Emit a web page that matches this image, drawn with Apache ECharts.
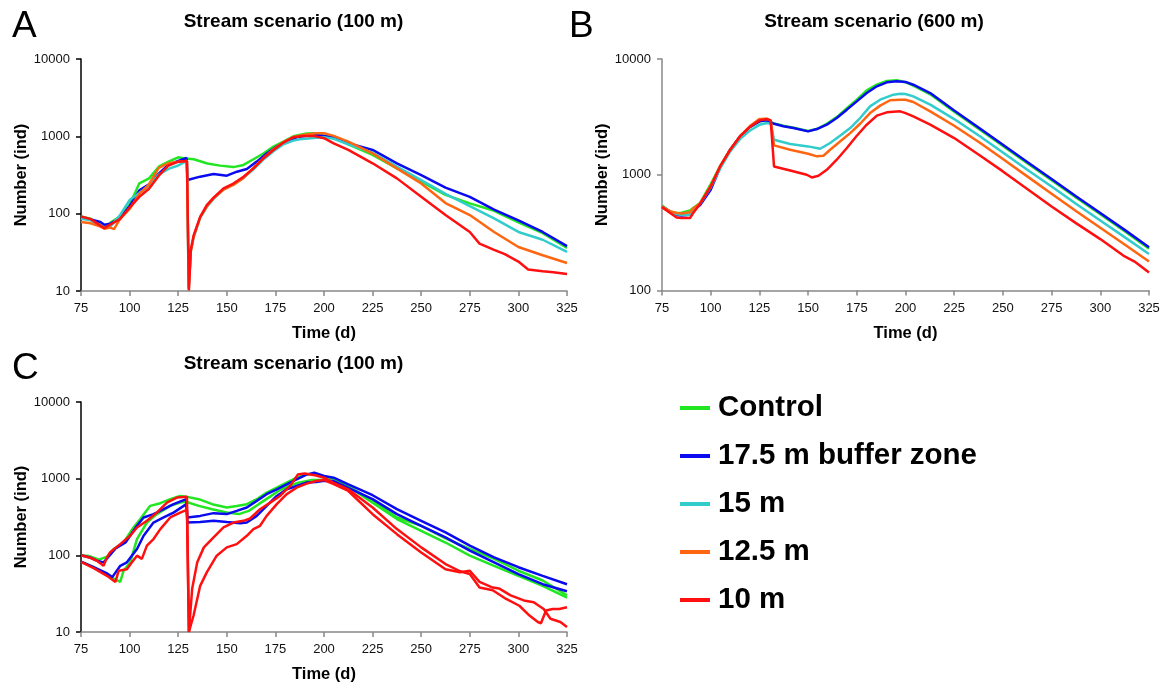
<!DOCTYPE html>
<html><head><meta charset="utf-8">
<script src="https://cdn.jsdelivr.net/npm/echarts@6/dist/echarts.min.js"></script>
<style>html,body{margin:0;padding:0;background:#fff}#c{width:1167px;height:684px}</style>
</head><body><div id="c"></div>
<script>
// ---------- data ----------
const seriesNames = ['Control', '17.5 m buffer zone', '15 m', '12.5 m', '10 m'];
const panelTitles = ['Stream scenario (100 m)', 'Stream scenario (600 m)', 'Stream scenario (100 m)'];
const panelLetters = ['A', 'B', 'C'];
const xTickMin = 75, xTickMax = 325, xTickStep = 25;

// Panel A  [day, number]
const A_control = [[75,92],[80,86],[85,72],[87,66],[90,76],[95,92],[100,130],[103,190],[105,247],[110,286],[115,405],[120,470],[125,535],[129,515],[133,505],[140,446],[146.6,418],[153.4,400],[158.6,427],[163.7,505],[168.8,600],[174,736],[179.1,855],[184.2,1000],[191,1090],[196,1098],[200,1013],[205,970],[212.5,790],[225,574],[237.5,385],[250,259],[262.5,175],[275,136],[287.5,109],[300,77],[312.5,56],[325,36]];
const A_b175 = [[75,90],[80,84],[85,78],[87,72],[90,74],[95,88],[100,125],[105,200],[110,240],[115,330],[120,430],[125,480],[129.3,525],[129.8,272],[136.3,301],[143.2,326],[150,310],[155.2,349],[160.3,378],[165.4,471],[170.5,600],[175.7,736],[180.8,855],[185.9,973],[194.5,1050],[200,1013],[205,972],[212.5,814],[225,667],[237.5,448],[250,316],[262.5,217],[275,165],[287.5,113],[300,82],[312.5,58],[325,38]];
const A_b15 = [[75,86],[80,82],[85,70],[87,65],[90,68],[95,95],[100,150],[105,185],[110,230],[115,320],[120,380],[125,420],[129.5,480],[130.4,10.5],[131.5,33],[133,50],[136.3,88],[140,125],[143.2,155],[148.3,205],[153.4,240],[158.6,290],[163.7,375],[168.8,500],[174,640],[179.1,790],[184.2,880],[187.5,917],[196,960],[200,973],[205,930],[212.5,790],[225,615],[237.5,405],[250,272],[262.5,180],[275,125],[287.5,87],[300,58],[312.5,46],[325,32]];
const A_b125 = [[75,78],[80,75],[85,68],[87,64],[90,66],[92,63],[95,85],[100,115],[105,180],[110,240],[115,390],[120,450],[125,470],[129.5,480],[130.4,11],[131.5,33],[133,51],[136.3,90],[140,127],[143.2,158],[148.3,205],[153.4,235],[158.6,290],[163.7,390],[168.8,520],[174,680],[179.1,840],[184.2,980],[190,1050],[196,1098],[200,1098],[205,1013],[212.5,855],[225,603],[237.5,385],[250,246],[262.5,137],[275,96],[287.5,58],[300,37],[312.5,29],[325,23]];
const A_b10 = [[75,92],[80,85],[85,70],[87,65],[90,72],[95,85],[100,120],[105,165],[110,210],[115,310],[120,420],[125,470],[129.5,480],[130.5,10.2],[131.5,34],[132.9,52],[136.3,91],[139.7,129],[143.2,161],[148.3,212],[153.4,245],[158.6,300],[163.7,385],[168.8,520],[174,667],[179.1,830],[184.2,973],[189.4,1013],[194.5,1013],[200,945],[205,813],[212.5,667],[225,448],[237.5,286],[250,165],[262.5,96],[275,58],[280,41],[287.5,34],[293,30],[300,24],[305,19],[312.5,18],[318,17.5],[325,16.6]];

// Panel B
const B_control = [[75,543],[79,482],[82.5,467],[85,470],[89.4,492],[91,515],[94.5,569],[100,830],[104.8,1180],[110,1645],[115,2143],[120,2582],[125,2893],[128.8,2950],[132.5,2780],[137.3,2650],[142.5,2550],[150,2390],[154.5,2483],[159.6,2750],[164.7,3150],[169.9,3750],[175,4450],[180.1,5360],[185.3,6000],[190.4,6450],[195.5,6550],[200,6300],[204,5900],[212.7,4950],[225,3500],[238.4,2440],[250,1770],[262.5,1255],[275,895],[287.5,635],[300,455],[312.5,325],[325,230]];
const B_b175 = [[75,530],[79,482],[82.5,450],[85,445],[89.4,451],[91,500],[94.5,545],[100,741],[104.8,1150],[110,1645],[115,2143],[120,2582],[125,2893],[128.8,2950],[132.5,2754],[137.3,2620],[142.5,2530],[150,2370],[154.5,2483],[159.6,2706],[164.7,3090],[169.9,3650],[175,4305],[180.1,5085],[185.3,5810],[190.4,6285],[195.5,6410],[200,6340],[204,5995],[212.7,5080],[225,3597],[238.4,2500],[250,1817],[262.5,1288],[275,919],[287.5,651],[300,467],[312.5,334],[325,236]];
const B_b15 = [[75,530],[79,480],[82.5,455],[85,451],[89.4,451],[91,490],[94.5,560],[100,780],[104.8,1130],[110,1590],[115,2031],[120,2400],[125,2700],[128.8,2800],[130.8,2750],[132.5,2009],[140.8,1841],[150,1758],[156.2,1678],[161.3,1880],[166.4,2173],[171.6,2530],[176.7,3090],[181.8,3900],[187,4450],[193.8,4920],[197.3,5010],[200,4980],[204,4750],[212.7,4030],[225,3027],[238.4,2143],[250,1559],[262.5,1104],[275,793],[287.5,561],[300,403],[312.5,289],[325,207]];
const B_b125 = [[75,530],[79,485],[82.5,467],[85,463],[89.4,475],[91,510],[94.5,565],[100,800],[104.8,1180],[110,1645],[115,2143],[120,2620],[125,3027],[128.8,3050],[130.8,2950],[132.5,1794],[140.8,1645],[150,1520],[154.5,1442],[157.9,1460],[161.3,1645],[166.4,1940],[171.6,2290],[176.7,2757],[181.8,3410],[187,3955],[192.1,4400],[197.3,4450],[200,4450],[204,4250],[212.7,3530],[225,2653],[238.4,1878],[250,1366],[262.5,968],[275,686],[287.5,486],[300,348],[312.5,250],[325,178]];
const B_b10 = [[75,525],[79,470],[82.5,428],[85,422],[89.4,422],[91,467],[94.5,560],[100,790],[104.8,1180],[110,1645],[115,2143],[120,2582],[125,2950],[128.8,3025],[130.8,2950],[132.5,1180],[140.8,1090],[149.3,1000],[151.9,948],[155.3,980],[159.6,1103],[164.7,1349],[169.9,1701],[175,2173],[180.1,2706],[185.3,3240],[190.4,3460],[197.3,3530],[200,3410],[204,3190],[212.7,2706],[225,2074],[238.4,1459],[250,1069],[262.5,752],[275,532],[287.5,382],[300,278],[312.5,197],[317.6,178],[325,143]];

// Panel C (two runs each)
const C_control1 = [[75,100],[79,98],[84.2,88],[88.4,96],[91.8,121],[96.9,147],[102,231],[105.5,297],[110.6,442],[115.8,479],[120.9,540],[126,595],[129,583],[135.6,540],[142.5,465],[150,420],[155.1,440],[160.3,465],[165.4,540],[170.5,658],[175.7,764],[180.8,888],[185.9,1030],[191,1138],[196,1150],[200,1070],[205,1000],[212.5,803],[225,513],[237.5,312],[250,243],[262.5,166],[275,121],[287.5,90],[300,63],[312.5,47],[325,30]];
const C_control2 = [[75,82],[81.5,70],[88.4,55],[95.2,45],[96.9,63],[100.3,81],[103.8,163],[108.9,268],[114,345],[120.9,442],[126,487],[129,500],[135.6,442],[142.5,400],[150,361],[156.2,345],[161.3,380],[166.4,465],[171.5,566],[176.6,691],[181.8,803],[186.9,888],[193.8,961],[200,960],[205,930],[212.5,790],[225,487],[237.5,297],[250,209],[262.5,147],[275,99],[287.5,73],[300,54],[312.5,40],[325,28]];
const C_b175_1 = [[75,100],[80,93],[83.2,85],[86.6,81],[89.5,98],[92.8,123],[97.9,147],[103.8,243],[107.2,312],[112.3,345],[117.5,400],[122.6,465],[129.2,540],[129.7,312],[136.3,327],[143.2,355],[150,345],[155.1,380],[160.3,420],[165.4,513],[170.5,627],[175.7,726],[180.8,843],[185.9,979],[191,1130],[195,1200],[200,1083],[205,1030],[212.5,843],[225,608],[237.5,400],[250,282],[262.5,199],[275,134],[287.5,94],[300,70],[312.5,54],[325,42]];
const C_b175_2 = [[75,83],[81.5,70],[88.4,58],[91.1,52],[95.2,73],[98.6,81],[103.8,121],[107.2,180],[112.3,268],[117.5,312],[122.6,361],[129.2,465],[129.7,268],[136.3,272],[143.2,282],[150,272],[157,263],[160.3,268],[165.4,327],[170.5,442],[175.7,595],[180.8,726],[185.9,803],[191,888],[196,905],[200,940],[205,930],[212.5,760],[225,540],[237.5,345],[250,243],[262.5,171],[275,115],[287.5,81],[300,57],[312.5,42],[325,34]];
const C_b10_1 = [[75,100],[79.8,93],[83.2,85],[86.6,73],[88.4,94],[90,110],[95.2,140],[100.3,180],[103.8,231],[108.9,282],[114,361],[119.2,487],[124.3,566],[129.5,583],[130.5,10],[132.2,37],[134.8,81],[138.2,127],[143.2,171],[148.3,231],[153.4,268],[158.6,282],[162,302],[167.1,400],[172.3,487],[177.4,595],[182.5,800],[186.5,1130],[190,1170],[196,1100],[200,1030],[205,880],[212.5,726],[225,420],[237.5,220],[250,127],[262.5,77],[270,62],[275,57],[280,38],[286.8,35],[293.7,27],[300.5,22],[305.7,16.4],[310,13.5],[311.6,13],[314.2,19.1],[317.6,20],[321,20],[325,21]];
const C_b10_2 = [[75,82],[81.5,68],[88.4,54],[92.7,45],[94.4,63],[98.6,66],[101.2,81],[103.8,99],[106.3,90],[108.9,134],[112.3,163],[115.8,220],[120.9,312],[126,361],[129.5,392],[130.5,10],[132.9,16.4],[136.3,40],[139.7,60],[144.8,99],[150,127],[155.1,140],[160.3,180],[163.7,220],[167.1,243],[170.5,327],[175.7,465],[180.8,627],[185.9,764],[191,861],[196,934],[200,960],[205,850],[212.5,691],[225,344],[237.5,189],[250,109],[262.5,66],[270,60],[275,63],[280,45],[286.8,38],[290,37],[296,30],[302.8,25.8],[307.9,24.5],[313,20],[316.5,14.9],[321.6,13.5],[325,11.6]];

// ---------- styling ----------
const colors = {'Control':'#22e622','17.5 m buffer zone':'#0a0af0','15 m':'#33cccc','12.5 m':'#ff6611','10 m':'#ff1010'};
const FONT = "'Liberation Sans', Arial, sans-serif";

const grids = [
  {left: 81, top: 59, width: 486, height: 232},
  {left: 662, top: 59, width: 487, height: 231.5},
  {left: 81, top: 402, width: 486, height: 231}
];
const yMins = [10, 100, 10];
const yAxisColors = ['#000', '#888', '#000'];

const xAxes = grids.map((g, i) => ({
  type: 'value', gridIndex: i, min: xTickMin, max: xTickMax, interval: xTickStep,
  axisLine: {lineStyle: {color: '#888', width: 1.5}},
  axisTick: {inside: false, length: 5, lineStyle: {color: '#888', width: 1.5}},
  axisLabel: {color: '#111', fontSize: 13, fontFamily: FONT, margin: 11},
  splitLine: {show: false},
  name: 'Time (d)', nameLocation: 'middle', nameGap: 34,
  nameTextStyle: {fontSize: 16.5, fontWeight: 'bold', color: '#000', fontFamily: FONT}
}));
const yAxes = grids.map((g, i) => ({
  type: 'log', logBase: 10, gridIndex: i, min: yMins[i], max: 10000,
  axisLine: {show: true, lineStyle: {color: yAxisColors[i], width: 1.5}},
  axisTick: {show: true, inside: false, length: 5, lineStyle: {color: yAxisColors[i], width: 1.5}},
  minorTick: {show: false},
  axisLabel: {color: '#111', fontSize: 13, fontFamily: FONT, margin: 11, formatter: v => String(Math.round(v))},
  splitLine: {show: false},
  name: 'Number (ind)', nameLocation: 'middle', nameGap: 51,
  nameTextStyle: {fontSize: 16.5, fontWeight: 'bold', color: '#000', fontFamily: FONT}
}));

function mk(name, data, idx) {
  return {
    type: 'line', name: name, data: data, xAxisIndex: idx, yAxisIndex: idx,
    showSymbol: false, symbol: 'none', smooth: false, animation: false,
    lineStyle: {width: 2.5, color: colors[name]}, itemStyle: {color: colors[name]},
    emphasis: {disabled: true}
  };
}
const series = [
  mk('Control', A_control, 0), mk('17.5 m buffer zone', A_b175, 0), mk('15 m', A_b15, 0), mk('12.5 m', A_b125, 0), mk('10 m', A_b10, 0),
  mk('Control', B_control, 1), mk('17.5 m buffer zone', B_b175, 1), mk('15 m', B_b15, 1), mk('12.5 m', B_b125, 1), mk('10 m', B_b10, 1),
  mk('Control', C_control1, 2), mk('Control', C_control2, 2),
  mk('17.5 m buffer zone', C_b175_1, 2), mk('17.5 m buffer zone', C_b175_2, 2),
  mk('10 m', C_b10_1, 2), mk('10 m', C_b10_2, 2)
];

const titleCenters = [[293.5, 12], [874, 12], [293.5, 354]];
const letterPos = [[12, 8], [569, 8], [12, 350]];
const titles = [];
panelTitles.forEach((t, i) => {
  titles.push({text: t, left: titleCenters[i][0], top: titleCenters[i][1], textAlign: 'center', padding: 0,
    textStyle: {fontSize: 19, fontWeight: 'bold', color: '#000', fontFamily: FONT}});
  titles.push({text: panelLetters[i], left: letterPos[i][0], top: letterPos[i][1], padding: 0,
    textStyle: {fontSize: 37, fontWeight: 'normal', color: '#000', fontFamily: FONT}});
});

const chart = echarts.init(document.getElementById('c'), null, {renderer: 'canvas'});
chart.setOption({
  animation: false,
  backgroundColor: '#fff',
  title: titles,
  grid: grids,
  xAxis: xAxes,
  yAxis: yAxes,
  legend: {
    data: seriesNames, orient: 'vertical', left: 675, top: 388,
    icon: 'rect', itemWidth: 30, itemHeight: 4, itemGap: 18, selectedMode: false,
    textStyle: {fontSize: 29.5, fontWeight: 'bold', color: '#000', fontFamily: FONT, lineHeight: 30, padding: [0, 0, 0, 3]}
  },
  series: series
});
</script></body></html>
